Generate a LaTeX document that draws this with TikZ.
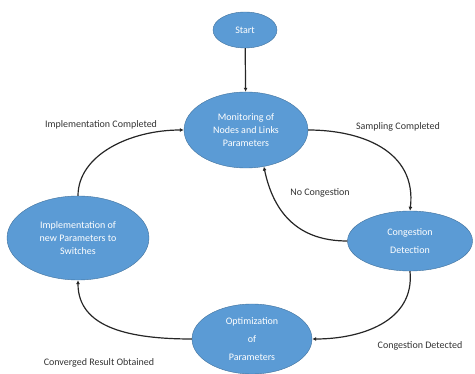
\documentclass[tikz,border=0pt]{standalone}
\usepackage{fontspec}
\setmainfont{Carlito}
\usepackage{tikz}
\usetikzlibrary{shapes.geometric}
\usetikzlibrary{arrows.meta}
\definecolor{nodeblue}{HTML}{5B9BD5}
\definecolor{nodeedge}{HTML}{41719C}
\tikzset{
  bubble/.style={ellipse, fill=nodeblue, draw=nodeedge, inner sep=0pt, text=white,
    align=center, font=\fontsize{10}{13}\selectfont},
  wide/.style={font=\fontsize{10}{18}\selectfont},
  lbl/.style={font=\fontsize{10}{12}\selectfont, text=black!80},
  flow/.style={draw=black!85, line width=1.2pt, -{Latex[length=4pt,width=4pt]}}
}
\begin{document}
\begin{tikzpicture}[x=1pt, y=-1pt]
    \useasboundingbox (0,0) rectangle (475,374);
    % states
    \node[bubble, minimum width=64, minimum height=36] (start) at (245,30) {Start};
    \node[bubble, minimum width=124, minimum height=76] (mon) at (246,130) {Monitoring of\\Nodes and Links\\Parameters};
    \node[bubble, wide, minimum width=125, minimum height=60] (cong) at (410,241) {Congestion\\Detection};
    \node[bubble, minimum width=142, minimum height=84] (imp) at (78,238) {Implementation of\\new Parameters to\\Switches};
    \node[bubble, wide, minimum width=120, minimum height=70] (opt) at (252,339) {Optimization\\of\\Parameters};
    % transitions
    \draw[flow] (start) -- (mon);
    \draw[flow] (mon.east) .. controls (360,130) and (417,150) .. (cong.north);
    \draw[flow] (cong.west) .. controls (300,241) and (274,215) .. (mon.-64);
    \draw[flow] (cong.south) .. controls (415,322) and (360,339) .. (opt.east);
    \draw[flow] (opt.west) .. controls (130,339) and (78,328) .. (imp.south);
    \draw[flow] (imp.north) .. controls (78,155) and (130,130) .. (mon.west);
    % labels
    \node[lbl] (l1) at (101,125) {Implementation Completed};
    \node[lbl] (l2) at (398,127) {Sampling Completed};
    \node[lbl] (l3) at (320,193) {No Congestion};
    \node[lbl] (l4) at (420,346) {Congestion Detected};
    \node[lbl] (l5) at (99,363) {Converged Result Obtained};
\end{tikzpicture}
\end{document}
